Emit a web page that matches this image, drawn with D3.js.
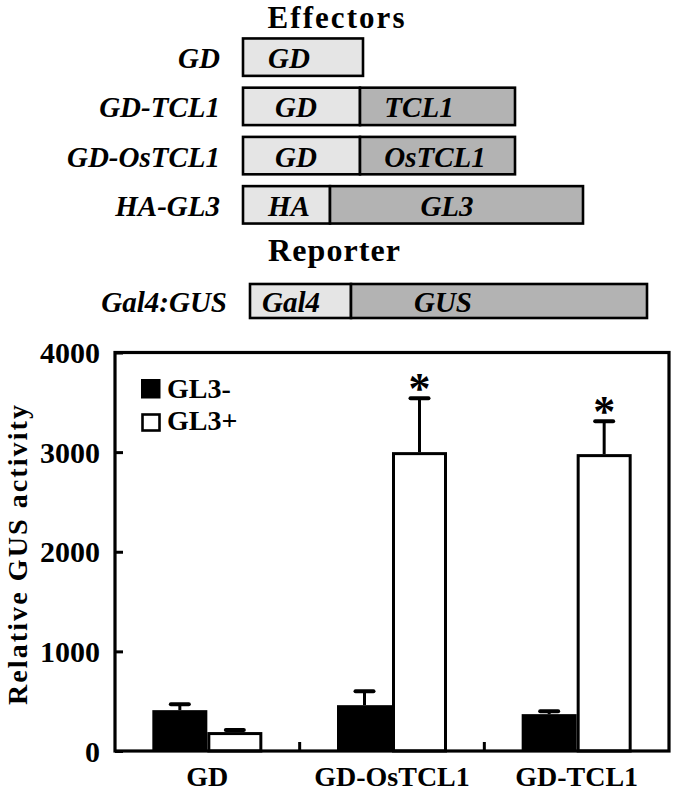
<!DOCTYPE html>
<html>
<head>
<meta charset="utf-8">
<script src="https://cdn.jsdelivr.net/npm/d3@7"></script>
<style>
  html, body { margin: 0; padding: 0; background: #fff; }
  svg { display: block; }
  text { font-family: "Liberation Serif", "Times New Roman", serif; font-weight: bold; fill: #000; }
</style>
</head>
<body>
<svg id="chart" width="675" height="791"></svg>
<script>
// ---------- data ----------
const categories = ["GD", "GD-OsTCL1", "GD-TCL1"];
const seriesNames = ["GL3-", "GL3+"];
const gl3Minus = [410, 460, 370];
const gl3MinusErr = [60, 140, 30];
const gl3Plus = [190, 3000, 2980];
const gl3PlusErr = [20, 540, 330];
const significant = [false, true, true];
const yTicks = [0, 1000, 2000, 3000, 4000];
const yTitle = "Relative GUS activity";

// construct diagram (segment extents in diagram units)
const effectorNames = ["GD", "GD-TCL1", "GD-OsTCL1", "HA-GL3"];
const effectorSegments = [
  [{ name: "GD", from: 0, to: 120, tone: "light", at: 46 }],
  [{ name: "GD", from: 0, to: 117, tone: "light", at: 53 }, { name: "TCL1", from: 117, to: 272, tone: "dark", at: 176 }],
  [{ name: "GD", from: 0, to: 117, tone: "light", at: 53 }, { name: "OsTCL1", from: 117, to: 272, tone: "dark", at: 192 }],
  [{ name: "HA", from: 0, to: 87, tone: "light", at: 46 }, { name: "GL3", from: 87, to: 340, tone: "dark", at: 204 }]
];
const reporterName = "Gal4:GUS";
const reporterSegments = [
  { name: "Gal4", from: 7, to: 108, tone: "light", at: 48 },
  { name: "GUS", from: 108, to: 404, tone: "dark", at: 200 }
];

// ---------- drawing ----------
const svg = d3.select("#chart");
const tones = { light: "#e5e5e5", dark: "#b3b3b3" };

// diagram
const dx = d3.scaleLinear().domain([0, 400]).range([243, 643]);
const effY = d3.scaleBand().domain(effectorNames).range([36, 226]).paddingInner(0.24).paddingOuter(0.05);
const diag = svg.append("g");

diag.append("text").attr("x", 336).attr("y", 28).attr("text-anchor", "middle")
  .attr("font-size", 31).attr("textLength", 137).attr("lengthAdjust", "spacing").text("Effectors");
diag.append("text").attr("x", 334).attr("y", 261).attr("text-anchor", "middle")
  .attr("font-size", 32).attr("textLength", 132).attr("lengthAdjust", "spacing").text("Reporter");

function drawRow(g, label, segs, y0, h) {
  const left = dx(d3.min(segs, s => s.from));
  g.append("text").attr("x", left - 23).attr("y", y0 + h / 2 + 11)
    .attr("text-anchor", "end").attr("font-size", 29).attr("font-style", "italic").text(label);
  segs.forEach(s => {
    g.append("rect").attr("x", dx(s.from)).attr("y", y0)
      .attr("width", dx(s.to) - dx(s.from)).attr("height", h)
      .attr("fill", tones[s.tone]).attr("stroke", "#000").attr("stroke-width", 2.6);
  });
  segs.forEach(s => {
    g.append("text").attr("x", dx(s.at)).attr("y", y0 + h / 2 + 11)
      .attr("text-anchor", "middle").attr("font-size", 29).attr("font-style", "italic").text(s.name);
  });
}
effectorNames.forEach((n, i) => drawRow(diag, n, effectorSegments[i], effY(n), effY.bandwidth()));
drawRow(diag, reporterName, reporterSegments, 284, 34);

// bar chart
const plot = { left: 115, right: 669, top: 352.5, bottom: 751 };
const x0 = d3.scaleBand().domain(categories).range([plot.left, plot.right]);
const groupW = 110;
const x1 = d3.scaleBand().domain(seriesNames).range([0, groupW]);
const y = d3.scaleLinear().domain([0, 4000]).range([plot.bottom, plot.top]);

const rows = categories.map((c, i) => ({
  c, i,
  vals: [
    { s: "GL3-", v: gl3Minus[i], e: gl3MinusErr[i] },
    { s: "GL3+", v: gl3Plus[i], e: gl3PlusErr[i] }
  ]
}));
const off = (x0.bandwidth() - groupW) / 2;

const chart = svg.append("g");

// error bars (drawn under bars)
rows.forEach(r => {
  r.vals.forEach(d => {
    const cx = x0(r.c) + off + x1(d.s) + x1.bandwidth() / 2;
    chart.append("line").attr("x1", cx).attr("x2", cx)
      .attr("y1", y(d.v)).attr("y2", y(d.v + d.e))
      .attr("stroke", "#000").attr("stroke-width", 3);
    chart.append("line").attr("x1", cx - 9).attr("x2", cx + 9)
      .attr("y1", y(d.v + d.e)).attr("y2", y(d.v + d.e))
      .attr("stroke", "#000").attr("stroke-width", 4).attr("stroke-linecap", "round");
  });
});

// bars
rows.forEach(r => {
  chart.selectAll(null).data(r.vals).enter().append("rect")
    .attr("x", d => x0(r.c) + off + x1(d.s) + (d.s === "GL3+" ? 1.5 : 0))
    .attr("y", d => y(d.v) + (d.s === "GL3+" ? 1.5 : 0))
    .attr("width", d => x1.bandwidth() - (d.s === "GL3+" ? 3 : 0))
    .attr("height", d => plot.bottom - y(d.v) - (d.s === "GL3+" ? 1.5 : 0))
    .attr("fill", d => d.s === "GL3-" ? "#000" : "#fff")
    .attr("stroke", "#000")
    .attr("stroke-width", d => d.s === "GL3+" ? 3 : 0);
});

// asterisks
rows.forEach(r => {
  if (!significant[r.i]) return;
  const d = r.vals[1];
  const cx = x0(r.c) + off + x1(d.s) + x1.bandwidth() / 2;
  chart.append("text").attr("x", cx).attr("y", y(d.v + d.e) + 5)
    .attr("text-anchor", "middle").attr("font-size", 44).text("*");
});

// frame
chart.append("rect").attr("x", plot.left).attr("y", plot.top)
  .attr("width", plot.right - plot.left).attr("height", plot.bottom - plot.top)
  .attr("fill", "none").attr("stroke", "#000").attr("stroke-width", 3.2);

// y axis
const yAxis = d3.axisLeft(y).tickValues(yTicks).tickSize(-8).tickPadding(15).tickFormat(d3.format("d"));
const ya = chart.append("g").attr("transform", `translate(${plot.left},0)`).call(yAxis);
ya.select(".domain").remove();
ya.selectAll(".tick line").attr("stroke", "#000").attr("stroke-width", 3);
ya.selectAll(".tick text").style("font-size", "30px").attr("dy", "0.34em");

// x axis category labels + separator ticks
const xa = chart.append("g");
categories.forEach((c, i) => {
  xa.append("text").attr("x", x0(c) + x0.bandwidth() / 2).attr("y", 786)
    .attr("text-anchor", "middle").attr("font-size", 28).text(c);
  if (i > 0) {
    xa.append("line").attr("x1", x0(c)).attr("x2", x0(c))
      .attr("y1", plot.bottom).attr("y2", plot.bottom - 9)
      .attr("stroke", "#000").attr("stroke-width", 3);
  }
});

// y title
chart.append("text").attr("transform", "translate(27,555) rotate(-90)")
  .attr("text-anchor", "middle").attr("font-size", 28)
  .attr("textLength", 300).attr("lengthAdjust", "spacing").text(yTitle);

// legend
const leg = chart.append("g");
leg.append("rect").attr("x", 141).attr("y", 379).attr("width", 19.5).attr("height", 19.5).attr("fill", "#000");
leg.append("rect").attr("x", 142.5).attr("y", 414.5).attr("width", 17).attr("height", 16)
  .attr("fill", "#fff").attr("stroke", "#000").attr("stroke-width", 2.6);
leg.append("text").attr("x", 167).attr("y", 398).attr("font-size", 28).text(seriesNames[0]);
leg.append("text").attr("x", 167).attr("y", 430).attr("font-size", 28).text(seriesNames[1]);
</script>
</body>
</html>
